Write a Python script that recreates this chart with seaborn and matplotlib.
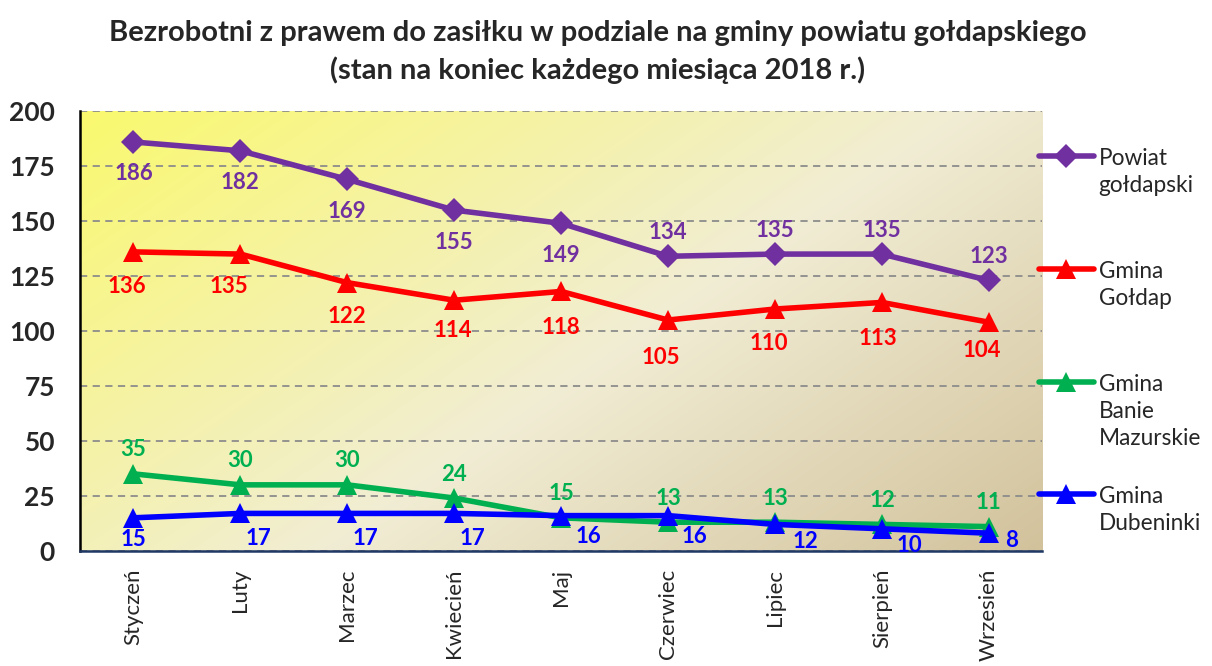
import numpy as np
import pandas as pd
import matplotlib
matplotlib.use("Agg")
import matplotlib.pyplot as plt
from matplotlib.colors import LinearSegmentedColormap
import seaborn as sns

months = ["Styczeń", "Luty", "Marzec", "Kwiecień", "Maj", "Czerwiec", "Lipiec", "Sierpień", "Wrzesień"]
powiat = [186, 182, 169, 155, 149, 134, 135, 135, 123]
goldap = [136, 135, 122, 114, 118, 105, 110, 113, 104]
banie = [35, 30, 30, 24, 15, 13, 13, 12, 11]
dubeninki = [15, 17, 17, 17, 16, 16, 12, 10, 8]
series_names = ["Powiat\ngołdapski", "Gmina\nGołdap", "Gmina\nBanie\nMazurskie", "Gmina\nDubeninki"]
colors = ["#7030A0", "#FF0000", "#00B050", "#0000FF"]
markers = ["D", "^", "^", "^"]
title = "Bezrobotni z prawem do zasiłku w podziale na gminy powiatu gołdapskiego\n(stan na koniec każdego miesiąca 2018 r.)"

sns.set_style("white")
plt.rcParams['font.family'] = ['Lato', 'DejaVu Sans']

values = [powiat, goldap, banie, dubeninki]
rows = []
for name, vals in zip(series_names, values):
    for i, v in enumerate(vals):
        rows.append({"x": i, "value": v, "seria": name})
df = pd.DataFrame(rows)

fig = plt.figure(figsize=(12.12, 6.66), dpi=100)
ax = fig.add_axes([0.066, 0.173, 0.794, 0.660])

# gradient background
cmap = LinearSegmentedColormap.from_list("bg", [(0, "#FAF96E"), (0.55, "#F1EDD4"), (1, "#D2C29C")])
gx, gy = np.meshgrid(np.linspace(0, 1, 300), np.linspace(0, 1, 200))
grad = (gx * 0.6 + gy * 0.4)
ax.imshow(grad, cmap=cmap, extent=[0, 1, 0, 1], transform=ax.transAxes, aspect='auto', zorder=0, origin='upper')

sns.lineplot(data=df, x="x", y="value", hue="seria", style="seria",
             palette=dict(zip(series_names, colors)),
             markers=dict(zip(series_names, markers)), dashes=False,
             linewidth=4, markersize=15, markeredgewidth=0, ax=ax, zorder=3, legend=True)
for line in ax.lines:
    if line.get_marker() == "D":
        line.set_markersize(12)

ax.set_xlim(-0.5, 8.5)
ax.set_ylim(0, 200)
ax.set_yticks(np.arange(0, 201, 25))
ax.set_xticks(range(len(months)))
ax.set_xticklabels(months, rotation=90, fontsize=16)
for t in ax.get_yticklabels():
    t.set_fontweight('bold')
    t.set_fontsize(19)
ax.set_xlabel("")
ax.set_ylabel("")
ax.yaxis.grid(True, linestyle=(0, (4, 3)), color="#8C8C8C", linewidth=1.3, zorder=1)
ax.set_axisbelow(True)
for s in ["top", "right"]:
    ax.spines[s].set_visible(False)
ax.spines["left"].set_color("black")
ax.spines["left"].set_linewidth(1.8)
ax.spines["bottom"].set_color("#1F3864")
ax.spines["bottom"].set_linewidth(1.8)
ax.set_xticks([8.5], minor=True)
ax.tick_params(axis='x', which='both', direction='out', length=7, width=1.5, color="#1F3864", pad=6)
ax.tick_params(axis='y', direction='out', length=7, width=1.3, color="black", pad=11)

# data labels (offsets in pixels: dx right, dy up)
lab_kw = dict(fontsize=16, fontweight='bold', ha='center', va='center', zorder=5,
              textcoords='offset pixels')
pow_off = [(0, -32)] * 5 + [(0, 24)] * 4
gol_off = [(-7, -35), (-12, -32), (0, -34), (-1, -30), (0, -36), (-7, -37), (-6, -34), (-4, -36), (-7, -28)]
ban_off = [(0, 24)] * 9
dub_off = [(0, -22), (18, -25), (18, -25), (18, -25), (27, -21), (26, -21), (30, -17), (27, -17), (23, -7)]
for vals, offs, col in zip(values, [pow_off, gol_off, ban_off, dub_off], colors):
    for i, (v, o) in enumerate(zip(vals, offs)):
        ax.annotate(str(v), (i, v), xytext=o, color=col, **lab_kw)

# legend: one entry per block, evenly spaced like the original
handles, labels = ax.get_legend_handles_labels()
ax.get_legend().remove()
leg_tops = [0.778, 0.608, 0.438, 0.270]
for h, l, top in zip(handles, labels, leg_tops):
    leg = fig.legend([h], [l], loc='upper left', bbox_to_anchor=(0.857, top),
                     frameon=False, fontsize=16.3, handlelength=2.45,
                     handletextpad=0.2, borderpad=0, borderaxespad=0, labelspacing=0)
    for vp in leg._legend_handle_box.get_children():
        for hp in vp.get_children():
            hp.align = "top"
    for t in leg.get_texts():
        t.set_linespacing(1.35)

fig.suptitle(title, fontsize=21, fontweight='bold', x=0.493, y=0.970, va='top', linespacing=1.45)
fig.savefig("out.png", dpi=100)
